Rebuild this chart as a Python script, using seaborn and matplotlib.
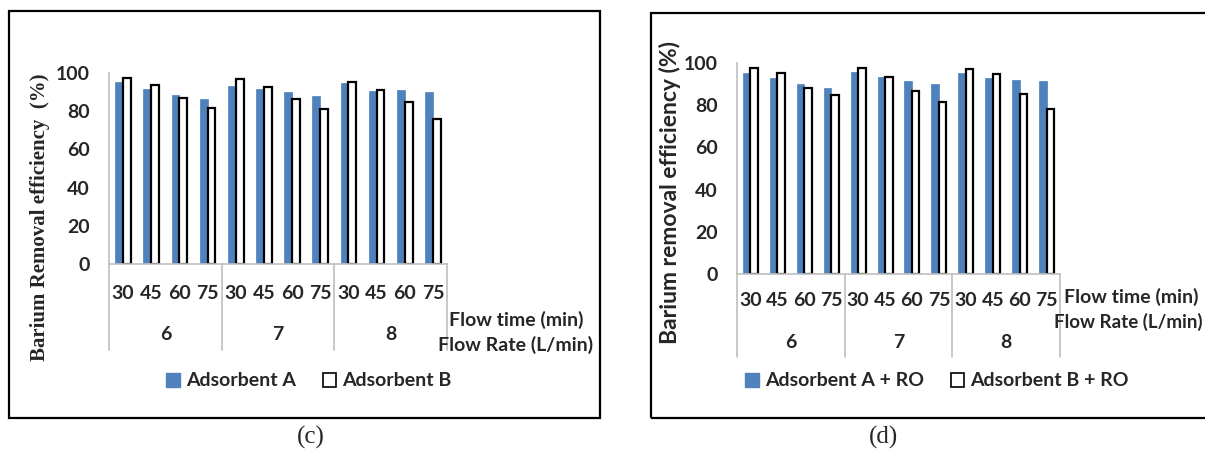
import matplotlib
matplotlib.use("Agg")
import matplotlib.pyplot as plt
import seaborn as sns
import pandas as pd
from matplotlib.patches import Patch, Rectangle

# ---- data -------------------------------------------------------------
flow_rates = ["6", "7", "8"]              # L/min
flow_times = ["30", "45", "60", "75"]     # min

c_series = ["Adsorbent A", "Adsorbent B"]
c_adsorbent_a = [95.3, 91.6, 88.4, 86.5, 93.3, 91.6, 90.0, 88.1, 94.7, 90.5, 91.1, 90.0]
c_adsorbent_b = [97.2, 93.7, 87.0, 81.6, 96.8, 92.6, 86.3, 81.2, 95.1, 90.9, 84.6, 75.8]

d_series = ["Adsorbent A + RO", "Adsorbent B + RO"]
d_adsorbent_a_ro = [95.4, 92.9, 90.2, 88.0, 95.7, 93.2, 91.3, 90.1, 95.1, 92.8, 92.1, 91.7]
d_adsorbent_b_ro = [97.6, 95.3, 88.2, 84.6, 97.5, 93.2, 86.9, 81.7, 97.2, 94.8, 85.4, 78.1]

y_ticks = [0, 20, 40, 60, 80, 100]

# ---- style ------------------------------------------------------------
sns.set_style("white")
plt.rcParams["font.family"] = ["Lato", "DejaVu Sans"]
plt.rcParams["font.weight"] = "bold"

BLUE = "#4F81BD"
GRID = "#BFBFBF"
FS = 14
W, H = 1205, 450
fig = plt.figure(figsize=(W / 100, H / 100), dpi=100)


def px_axes(x0, x1, y0, y1):
    """Axes whose data area spans pixel columns x0..x1 and rows y1 (top) .. y0 (bottom)."""
    return fig.add_axes([x0 / W, 1 - y0 / H, (x1 - x0) / W, (y0 - y1) / H])


def build_frame(vals_a, vals_b, names):
    rows = []
    for name, vals in zip(names, (vals_a, vals_b)):
        i = 0
        for r in flow_rates:
            for t in flow_times:
                rows.append({"cat": f"{r}|{t}", "series": name, "value": vals[i]})
                i += 1
    return pd.DataFrame(rows)


def draw_panel(ax, df, names, h_px, group_off, line_off, tick_pad):
    order = [f"{r}|{t}" for r in flow_rates for t in flow_times]
    sns.barplot(data=df, x="cat", y="value", hue="series", order=order,
                hue_order=names, palette=[BLUE, "white"], width=0.56,
                ax=ax, legend=False, saturation=1)
    for bar in ax.containers[0]:
        bar.set_edgecolor(BLUE)
        bar.set_linewidth(0.5)
    for bar in ax.containers[1]:
        bar.set_facecolor("white")
        bar.set_edgecolor("black")
        bar.set_linewidth(1.6)

    ax.set_xlim(-0.5, len(order) - 0.5)
    ax.set_ylim(0, 100)
    ax.set_yticks(y_ticks)
    ax.set_xticks(range(len(order)))
    ax.set_xticklabels(flow_times * len(flow_rates))
    ax.tick_params(axis="y", length=0, pad=14, labelsize=FS)
    ax.tick_params(axis="x", length=0, pad=tick_pad, labelsize=FS)
    ax.set_xlabel("")
    ax.set_ylabel("")
    for s in ("top", "right"):
        ax.spines[s].set_visible(False)
    for s in ("left", "bottom"):
        ax.spines[s].set_color(GRID)
        ax.spines[s].set_linewidth(1.2)

    # multi-level category axis: group separators and flow-rate labels
    trans = ax.get_xaxis_transform()
    n = len(flow_times)
    for g in range(len(flow_rates) + 1):
        xg = g * n - 0.5
        ax.plot([xg, xg], [0, -line_off / h_px], color=GRID, lw=1.2,
                transform=trans, clip_on=False)
    for g, r in enumerate(flow_rates):
        ax.text(g * n + (n - 1) / 2, -group_off / h_px, r, transform=trans,
                ha="center", va="center", fontsize=FS, fontweight="bold")


def panel_box(x0, y0, x1, y1):
    fig.add_artist(Rectangle((x0 / W, 1 - y1 / H), (x1 - x0) / W, (y1 - y0) / H,
                             transform=fig.transFigure, fill=False,
                             edgecolor="black", lw=1.6))


def legend_handles(names):
    return [Patch(facecolor=BLUE, edgecolor=BLUE, label=names[0]),
            Patch(facecolor="white", edgecolor="black", lw=1.2, label=names[1])]


SERIF = ["Liberation Serif", "DejaVu Serif"]

# ---- panel (c) -------------------------------------------------------
panel_box(9, 11, 600, 418)
ax_c = px_axes(109, 447, 264, 73)
draw_panel(ax_c, build_frame(c_adsorbent_a, c_adsorbent_b, c_series), c_series,
           h_px=191, group_off=70, line_off=86, tick_pad=15)
fig.text(40 / W, 1 - 217 / H, "Barium Removal efficiency  (%)", rotation=90,
         ha="center", va="center", fontsize=15, fontweight="bold", family=SERIF)
fig.text(516 / W, 1 - 320 / H, "Flow time (min)", ha="center", va="center",
         fontsize=FS)
fig.text(516 / W, 1 - 345 / H, "Flow Rate (L/min)", ha="center", va="center",
         fontsize=FS)
fig.legend(handles=legend_handles(c_series), loc="center",
           bbox_to_anchor=(309 / W, 1 - 381 / H), ncol=2, frameon=False,
           fontsize=FS, handlelength=0.7, handleheight=0.7,
           handletextpad=0.3, columnspacing=1.4)
fig.text(311 / W, 1 - 437 / H, "(c)", ha="center", va="center", fontsize=18,
         fontweight="normal", family=SERIF)

# ---- panel (d) -------------------------------------------------------
panel_box(651, 13, 1215, 418)
ax_d = px_axes(737, 1060, 274, 63)
draw_panel(ax_d, build_frame(d_adsorbent_a_ro, d_adsorbent_b_ro, d_series), d_series,
           h_px=211, group_off=68, line_off=83, tick_pad=13)
fig.text(670 / W, 1 - 192 / H, "Barium removal efficiency (%)", rotation=90,
         ha="center", va="center", fontsize=16.5, fontweight="bold")
fig.text(1131 / W, 1 - 297 / H, "Flow time (min)", ha="center", va="center",
         fontsize=FS)
fig.text(1203 / W, 1 - 322 / H, "Flow Rate (L/min)", ha="right", va="center",
         fontsize=13.5)
fig.legend(handles=legend_handles(d_series), loc="center",
           bbox_to_anchor=(937 / W, 1 - 381 / H), ncol=2, frameon=False,
           fontsize=FS, handlelength=0.7, handleheight=0.7,
           handletextpad=0.3, columnspacing=1.4)
fig.text(884 / W, 1 - 437 / H, "(d)", ha="center", va="center", fontsize=18,
         fontweight="normal", family=SERIF)

fig.savefig("out.png", dpi=100, facecolor="white")
